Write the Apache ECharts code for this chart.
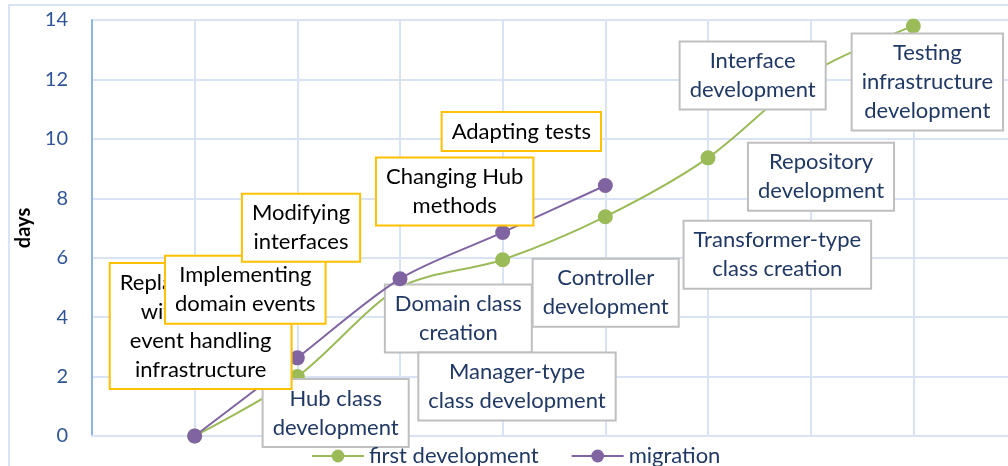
<!DOCTYPE html>
<html>
<head>
<meta charset="utf-8">
<script src="https://cdn.jsdelivr.net/npm/echarts@6/dist/echarts.min.js"></script>
<style>
  html, body { margin: 0; padding: 0; background: #fff; }
  #chart { width: 1008px; height: 466px; }
</style>
</head>
<body>
<div id="chart"></div>
<script>
// x steps (no tick labels shown in the original)
const steps = ['', '1', '2', '3', '4', '5', '6', '7', '8', '9'];

// first development (green)
const firstDev = [null, 0, 2.0, 5.0, 5.93, 7.38, 9.36, 12.2, 13.8, null];
const firstDevLabels = [
  null,
  'Hub class\ndevelopment',
  'Domain class\ncreation',
  'Manager-type\nclass development',
  'Controller\ndevelopment',
  'Transformer-type\nclass creation',
  'Repository\ndevelopment',
  'Interface\ndevelopment',
  'Testing\ninfrastructure\ndevelopment',
  null
];

// migration (purple)
const migration = [null, 0, 2.63, 5.29, 6.85, 8.43, null, null, null, null];
const migrationLabels = [
  null,
  'Replacing events\nwith domain\nevent handling\ninfrastructure',
  'Implementing\ndomain events',
  'Modifying\ninterfaces',
  'Changing Hub\nmethods',
  'Adapting tests',
  null, null, null, null
];

// where each label box sits relative to its point (px)
const firstDevOffsets = [null, [141, -23], [161, -58], [117, 99], [103, 33], [172, 38], [113, 19], [-58, 2], [14, 56], null];
const migrationOffsets = [null, [6, -110], [-52, -68], [-99, -51], [-48, -41], [-84, -54], null, null, null, null];

const FONT = 'Lato';
const GREEN = '#9BBB59';
const PURPLE = '#8064A2';

const buildData = (values, labels, offsets, boxStyle) =>
  values.map((v, i) => {
    if (v === null) return null;
    return {
      value: v,
      label: {
        show: !!labels[i],
        formatter: labels[i] || '',
        position: 'inside',
        offset: offsets[i],
        ...boxStyle
      }
    };
  });

const greenBox = {
  color: '#203864',
  backgroundColor: '#fff',
  borderColor: '#BFBFBF',
  borderWidth: 2,
  padding: [4, 9],
  fontFamily: FONT,
  fontSize: 22,
  lineHeight: 29,
  align: 'center',
  verticalAlign: 'middle'
};
const goldBox = {
  ...greenBox,
  color: '#000',
  borderColor: '#FFC000'
};

const chart = echarts.init(document.getElementById('chart'));

chart.setOption({
  animation: false,
  graphic: [{
    type: 'rect',
    shape: { x: 9, y: 5, width: 1010, height: 480 },
    style: { fill: 'none', stroke: '#DAE3F3', lineWidth: 2 },
    z: -1
  }],
  // plot runs past the right edge of the picture
  grid: { left: 92, top: 20, bottom: 30, width: 924, outerBoundsMode: 'none' },
  legend: {
    left: 306,
    top: 440,
    itemWidth: 52,
    itemHeight: 16,
    itemGap: 32,
    textStyle: { fontFamily: FONT, fontSize: 22, color: '#203864' },
    data: ['first development', 'migration']
  },
  xAxis: {
    type: 'category',
    data: steps,
    boundaryGap: false,
    axisLine: { show: true, lineStyle: { color: '#DAE3F3', width: 2 } },
    axisTick: { show: false },
    axisLabel: { show: false },
    splitLine: { show: true, lineStyle: { color: '#DAE3F3', width: 2 } }
  },
  yAxis: {
    type: 'value',
    min: 0,
    max: 14,
    interval: 2,
    name: 'days',
    nameLocation: 'middle',
    nameGap: 46,
    nameTextStyle: { fontFamily: FONT, fontSize: 20, fontWeight: 'bold', color: '#000' },
    axisLine: { show: true, lineStyle: { color: '#8FB4E3', width: 2 } },
    axisTick: { show: false },
    axisLabel: { fontFamily: FONT, fontSize: 20, color: '#2F5597', margin: 24 },
    splitLine: { lineStyle: { color: '#DAE3F3', width: 2 } }
  },
  series: [
    {
      name: 'first development',
      type: 'line',
      smooth: 0.3,
      symbol: 'circle',
      symbolSize: 15,
      itemStyle: { color: GREEN },
      lineStyle: { color: GREEN, width: 2 },
      data: buildData(firstDev, firstDevLabels, firstDevOffsets, greenBox),
      z: 2
    },
    {
      name: 'migration',
      type: 'line',
      smooth: 0.3,
      symbol: 'circle',
      symbolSize: 15,
      itemStyle: { color: PURPLE },
      lineStyle: { color: PURPLE, width: 2 },
      data: buildData(migration, migrationLabels, migrationOffsets, goldBox),
      z: 3
    }
  ]
});
</script>
</body>
</html>
